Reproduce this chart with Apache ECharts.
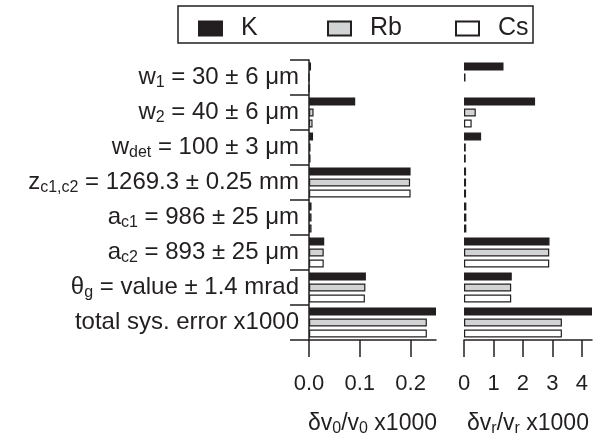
<!DOCTYPE html>
<html>
<head>
<meta charset="utf-8">
<script src="https://cdn.jsdelivr.net/npm/echarts@6/dist/echarts.min.js"></script>
<style>
  html, body { margin: 0; padding: 0; background: #fff; }
  #chart { width: 604px; height: 440px; }
</style>
</head>
<body>
<div id="chart"></div>
<script>
// categories (rich-text markup for subscripts)
var categories = [
    'w{sub|1} = 30 ± 6 μm',
    'w{sub|2} = 40 ± 6 μm',
    'w{sub|det} = 100 ± 3 μm',
    'z{sub|c1,c2} = 1269.3 ± 0.25 mm',
    'a{sub|c1} = 986 ± 25 μm',
    'a{sub|c2} = 893 ± 25 μm',
    'θ{sub|g} = value ± 1.4 mrad',
    'total sys. error x1000'
];

var seriesNames = ['K', 'Rb', 'Cs'];

// δv0/v0 x1000
var v0K  = [0.004, 0.091, 0.008, 0.200, 0.005, 0.030, 0.112, 0.250];
var v0Rb = [0, 0.009, 0.003, 0.199, 0.005, 0.029, 0.111, 0.232];
var v0Cs = [0, 0.007, 0.003, 0.200, 0.005, 0.029, 0.110, 0.232];

// δvr/vr x1000
var vrK  = [1.34, 2.41, 0.58, 0.07, 0.08, 2.90, 1.62, 4.34];
var vrRb = [0.05, 0.40, 0.06, 0.07, 0.08, 2.89, 1.60, 3.32];
var vrCs = ['-', 0.26, 0.06, 0.07, 0.08, 2.89, 1.60, 3.32];

var v0Ticks = [0, 0.1, 0.2];
var vrTicks = [0, 1, 2, 3, 4];

var ink = '#231f20';
var font = 'Liberation Sans, Arial, sans-serif';
var subRich = {
    sub: { fontSize: 16, fontFamily: font, color: ink, padding: [10, 0, 0, 0] }
};

var chart = echarts.init(document.getElementById('chart'), null, { renderer: 'canvas' });

function bar(name, data, fill, axisIdx) {
    return {
        name: name,
        type: 'bar',
        xAxisIndex: axisIdx,
        yAxisIndex: axisIdx,
        data: data,
        barWidth: 8,
        barGap: '37.5%',
        itemStyle: { color: fill, borderColor: ink, borderWidth: 1.2 },
        animation: false
    };
}

function xAxis(idx, ticks, digits, name) {
    return {
        type: 'value',
        gridIndex: idx,
        min: 0,
        max: 'dataMax',
        splitLine: { show: false },
        axisLine: { show: true, lineStyle: { color: ink, width: 1.5 } },
        axisTick: { show: true, length: 17, lineStyle: { color: ink, width: 1.5 }, customValues: ticks },
        axisLabel: {
            customValues: ticks,
            margin: 33,
            fontSize: 22,
            fontFamily: font,
            color: ink,
            formatter: function (v) { return v.toFixed(digits); }
        },
        name: name,
        nameLocation: 'middle',
        nameGap: 71,
        nameTextStyle: { fontSize: 23, fontFamily: font, color: ink, rich: subRich }
    };
}

// one legend per series so the items sit at fixed spots inside the box
function legend(name, left) {
    return {
        left: left,
        top: 10,
        padding: [6, 0, 6, 0],
        itemWidth: 23,
        itemHeight: 14,
        icon: 'rect',
        selectedMode: false,
        textStyle: { fontSize: 25, fontFamily: font, color: ink, padding: [0, 0, 0, 14] },
        data: [name]
    };
}

chart.setOption({
    backgroundColor: '#fff',
    animation: false,
    legend: [
        legend(seriesNames[0], 198),
        legend(seriesNames[1], 327),
        legend(seriesNames[2], 455)
    ],
    graphic: [{
        type: 'rect',
        shape: { x: 178, y: 6, width: 355, height: 37 },
        style: { fill: 'none', stroke: ink, lineWidth: 1.5 },
        silent: true
    }],
    grid: [
        { left: 309, top: 60, width: 127, height: 280, outerBoundsMode: 'none', containLabel: false },
        { left: 464, top: 60, width: 128, height: 280, outerBoundsMode: 'none', containLabel: false }
    ],
    xAxis: [
        xAxis(0, v0Ticks, 1, 'δv{sub|0}/v{sub|0} x1000'),
        xAxis(1, vrTicks, 0, 'δv{sub|r}/v{sub|r} x1000')
    ],
    yAxis: [
        {
            type: 'category',
            gridIndex: 0,
            inverse: true,
            data: categories,
            axisLine: { show: true, lineStyle: { color: ink, width: 1.5 } },
            axisTick: { show: true, length: 19, lineStyle: { color: ink, width: 1.5 } },
            axisLabel: { margin: 10, fontSize: 24, fontFamily: font, color: ink, rich: subRich }
        },
        {
            type: 'category',
            gridIndex: 1,
            inverse: true,
            data: categories,
            axisLine: { show: false },
            axisTick: { show: false },
            axisLabel: { show: false }
        }
    ],
    series: [
        bar('K', v0K, ink, 0),
        bar('Rb', v0Rb, '#d1d3d4', 0),
        bar('Cs', v0Cs, '#ffffff', 0),
        bar('K', vrK, ink, 1),
        bar('Rb', vrRb, '#d1d3d4', 1),
        bar('Cs', vrCs, '#ffffff', 1)
    ]
});
</script>
</body>
</html>
